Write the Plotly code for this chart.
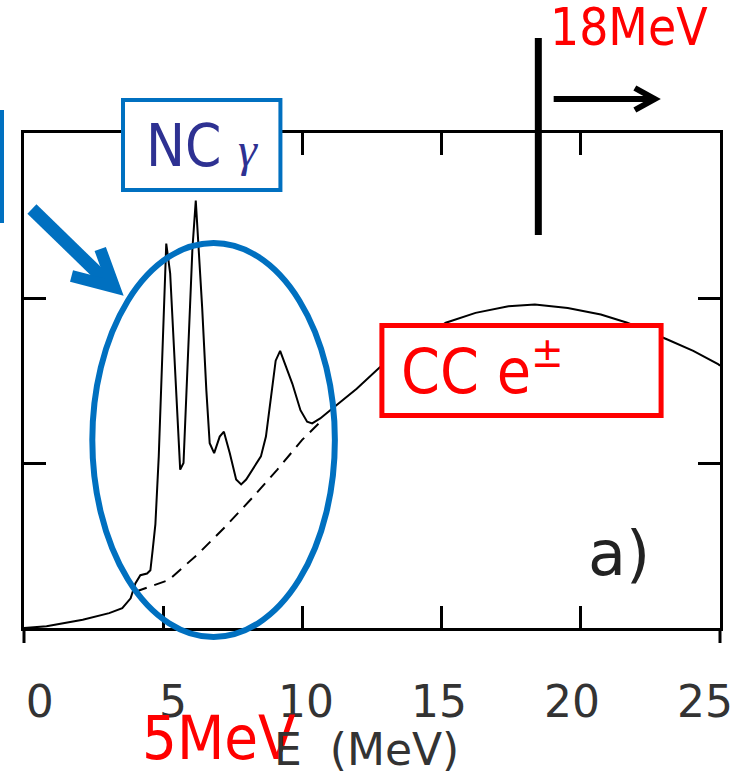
import plotly.graph_objects as go

# ---------------- data ----------------
energy = [0.0, 0.81, 2.11, 3.06, 3.53, 3.83, 4.0, 4.18, 4.42, 4.54, 4.62, 4.72,
          4.84, 4.98, 5.11, 5.25, 5.43, 5.61, 5.73, 5.9, 6.05, 6.17, 6.26, 6.4,
          6.55, 6.67, 6.83, 7.03, 7.18, 7.39, 7.62, 7.8, 7.98, 8.51, 8.69, 8.87,
          9.04, 9.2, 9.34, 9.64, 9.93, 10.17, 10.35, 10.64, 11.0, 11.95, 12.78,
          15.15, 16.22, 17.4, 18.35, 19.53, 20.72, 21.67, 23.09, 24.04, 24.93, 25.0]
counts = [0.0, 0.01, 0.05, 0.09, 0.12, 0.18, 0.27, 0.32, 0.33, 0.35, 0.47, 0.63,
          1.04, 1.74, 2.33, 2.15, 1.54, 0.96, 1.0, 1.74, 2.3, 2.59, 2.35, 1.94,
          1.44, 1.12, 1.06, 1.16, 1.19, 1.06, 0.9, 0.87, 0.9, 1.04, 1.16, 1.38,
          1.62, 1.68, 1.62, 1.48, 1.32, 1.25, 1.24, 1.27, 1.32, 1.45, 1.58,
          1.85, 1.91, 1.95, 1.96, 1.94, 1.90, 1.85, 1.75, 1.68, 1.60, 1.59]

cc_energy = [4.0, 4.72, 5.19, 6.26, 7.21, 8.15, 9.1, 9.99, 10.59]
cc_counts = [0.22, 0.26, 0.29, 0.45, 0.61, 0.78, 0.96, 1.14, 1.24]

tick_values = [0, 5, 10, 15, 20, 25]
tick_labels = ["0", "5", "10", "15", "20", "25"]
y_tick_values = [0, 1, 2, 3]

# ---------------- layout helpers (pixel -> paper) ----------------
W, H = 745, 775
L, R, T, B = 24, 727, 133, 628


def px(x):
    return (x - L) / (R - L)


def py(y):
    return (B - y) / (B - T)


BLUE = "#0070C0"
RED = "#FF0000"
NAVY = "#2E3192"
COND = "DejaVu Sans Condensed, DejaVu Sans"
LIGHT = "DejaVu Sans ExtraLight, DejaVu Sans"

fig = go.Figure()
fig.add_trace(go.Scatter(x=energy, y=counts, mode="lines",
                         line=dict(color="black", width=2), showlegend=False,
                         hoverinfo="skip"))
fig.add_trace(go.Scatter(x=cc_energy, y=cc_counts, mode="lines",
                         line=dict(color="black", width=2, dash="12px,8px"),
                         showlegend=False, hoverinfo="skip"))
fig.add_trace(go.Scatter(x=[None], y=[None], xaxis="x2", yaxis="y", showlegend=False,
                         hoverinfo="skip"))

shapes = []
# frame extensions below bottom axis
for xx in (L, R):
    shapes.append(dict(type="line", xref="paper", yref="paper",
                       x0=px(xx), x1=px(xx), y0=py(628), y1=py(643),
                       line=dict(color="black", width=3)))
# blue ellipse
shapes.append(dict(type="circle", xref="paper", yref="paper",
                   x0=px(93), x1=px(338), y0=py(637), y1=py(243),
                   line=dict(color=BLUE, width=6), layer="above"))
# NC box
shapes.append(dict(type="rect", xref="paper", yref="paper",
                   x0=px(124), x1=px(283), y0=py(190), y1=py(100),
                   line=dict(color=BLUE, width=4), fillcolor="white", layer="above"))
# CC box
shapes.append(dict(type="rect", xref="paper", yref="paper",
                   x0=px(385.5), x1=px(667.5), y0=py(415.5), y1=py(325.5),
                   line=dict(color=RED, width=5), fillcolor="white", layer="above"))
# blue vertical bar at left edge
shapes.append(dict(type="line", xref="paper", yref="paper",
                   x0=px(1.8), x1=px(1.8), y0=py(223), y1=py(110),
                   line=dict(color=BLUE, width=4), layer="above"))
# black threshold bar
shapes.append(dict(type="line", xref="paper", yref="paper",
                   x0=px(543.5), x1=px(543.5), y0=py(235), y1=py(38),
                   line=dict(color="black", width=7), layer="above"))


def path(points):
    s = ""
    for i, (a, b) in enumerate(points):
        s += ("M" if i == 0 else "L") + f"{px(a):.5f},{py(b):.5f} "
    return s


# black arrow
shapes.append(dict(type="path", xref="paper", yref="paper",
                   path=path([(559, 99), (660, 99)]),
                   line=dict(color="black", width=6), layer="above"))
shapes.append(dict(type="path", xref="paper", yref="paper",
                   path=path([(641, 88), (661, 99), (641, 110)]),
                   line=dict(color="black", width=6), layer="above"))
# blue arrow
shapes.append(dict(type="path", xref="paper", yref="paper",
                   path=path([(32, 209), (112, 286)]),
                   line=dict(color=BLUE, width=13), layer="above"))
shapes.append(dict(type="path", xref="paper", yref="paper",
                   path=path([(101, 249), (115, 287), (72, 276)]),
                   line=dict(color=BLUE, width=12), layer="above"))

annotations = [
    dict(text="18MeV", x=px(555), y=py(57), xanchor="left", yanchor="bottom",
         font=dict(family=COND, size=51, color=RED)),
    dict(text="5MeV", x=px(143), y=py(773), xanchor="left", yanchor="bottom",
         font=dict(family=COND, size=61, color=RED)),
    dict(text="NC <span style='font-family:Liberation Serif;font-style:italic;font-size:48px'>γ</span>",
         x=px(204), y=py(146), xanchor="center", yanchor="middle",
         font=dict(family=COND, size=58, color=NAVY)),
    dict(text="CC e<sup>±</sup>", x=px(405), y=py(408), xanchor="left", yanchor="bottom",
         font=dict(family=COND, size=62, color=RED)),
    dict(text="a)", x=px(594), y=py(590), xanchor="left", yanchor="bottom",
         font=dict(family=LIGHT, size=62, color="#222222")),
    dict(text="E  (MeV)", x=px(277), y=py(775), xanchor="left", yanchor="bottom",
         font=dict(family=LIGHT, size=44, color="#333333")),
]
for a in annotations:
    a.update(xref="paper", yref="paper", showarrow=False, borderpad=0, borderwidth=0)

axis_common = dict(showline=True, linecolor="black", linewidth=3, mirror="ticks",
                   ticks="inside", ticklen=22, tickwidth=2.5, tickcolor="black",
                   showticklabels=False, showgrid=False, zeroline=False)

fig.update_layout(
    width=W, height=H, autosize=False,
    margin=dict(l=L, r=W - R, t=T, b=H - B, pad=0),
    paper_bgcolor="white", plot_bgcolor="white",
    xaxis=dict(range=[0, 25], tickvals=tick_values, **axis_common),
    yaxis=dict(range=[0, 3], tickvals=y_tick_values, **axis_common),
    xaxis2=dict(overlaying="x", anchor="y", side="bottom",
                range=[-0.595, 25.56], tickvals=tick_values, ticktext=tick_labels,
                showline=False, showgrid=False, zeroline=False, ticks="",
                ticklabelstandoff=44,
                tickfont=dict(family=LIGHT, size=44, color="#333333")),
    shapes=shapes,
    annotations=annotations,
)

fig.write_html("out.html")
